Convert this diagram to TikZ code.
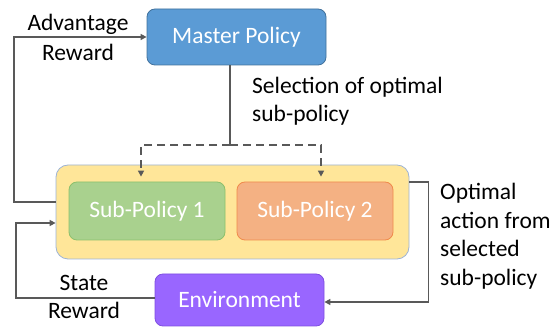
\documentclass[tikz,border=0pt]{standalone}
\usepackage{fontspec}
\setmainfont{Carlito}
\usetikzlibrary{arrows.meta}
\definecolor{mblue}{HTML}{5B9BD5}
\definecolor{mblueb}{HTML}{41719C}
\definecolor{yel}{HTML}{FFE699}
\definecolor{yelb}{HTML}{9DB3D6}
\definecolor{grn}{HTML}{A9D18E}
\definecolor{grnb}{HTML}{8CC06C}
\definecolor{org}{HTML}{F4B183}
\definecolor{orgb}{HTML}{F08A4B}
\definecolor{pur}{HTML}{9966FF}
\definecolor{purb}{HTML}{7F4FE0}
\definecolor{lin}{HTML}{595959}
\begin{document}
\begin{tikzpicture}[x=1pt,y=-1pt,
  font=\fontsize{23.5}{28.5}\selectfont,
  box/.style={draw, line width=0.8pt, rounded corners=8pt, text=white, inner sep=0pt},
  conn/.style={draw=lin, line width=1.8pt},
  tip/.style={-{Triangle[length=6pt,width=6pt]}},
  dsh/.style={dashed, dash pattern=on 8pt off 5pt},
  lbl/.style={text=black, inner sep=0pt}]
\useasboundingbox (0,0) rectangle (557,328);
\node[box, fill=mblue, draw=mblueb, minimum width=179pt, minimum height=56pt] (master) at (236.5,37) {Master Policy};
\node[box, fill=yel, draw=yelb, rounded corners=12pt, minimum width=353pt, minimum height=94pt] (yelbox) at (232.5,212) {};
\node[box, fill=grn, draw=grnb, minimum width=156pt, minimum height=58pt] (sp1) at (147,211) {Sub-Policy 1};
\node[box, fill=org, draw=orgb, minimum width=156pt, minimum height=58pt] (sp2) at (315,211) {Sub-Policy 2};
\node[box, fill=pur, draw=purb, minimum width=169pt, minimum height=52pt] (env) at (239.5,300) {Environment};
% advantage reward
\draw[conn, tip] ([yshift=10pt]yelbox.west) -- ++(-42,0) |- (master.west);
\node[lbl, align=center, font=\fontsize{23.5}{30}\selectfont] (adv) at (78,37) {Advantage\\Reward};
% selection
\draw[conn] ([xshift=-6.5pt]master.south) -- ++(0,80) coordinate (sel);
\draw[conn, dsh, tip] (sel) -| ([xshift=-6pt,yshift=5pt]sp1.north);
\draw[conn, dsh, tip] (sel) -| ([xshift=6pt,yshift=5pt]sp2.north);
\node[lbl, align=left, anchor=west] (seltxt) at (252,101) {Selection of optimal\\sub-policy};
% optimal action
\draw[conn, tip] ([yshift=30pt]yelbox.east) -- ++(19,0) |- ([yshift=-2pt]env.east);
\node[lbl, align=left, anchor=west] (opt) at (440,236) {Optimal\\action from\\selected\\sub-policy};
% state reward
\draw[conn, tip] ([yshift=2pt]env.west) -- ++(-139,0) |- ([yshift=-11pt]yelbox.west);
\node[lbl, align=center] (st) at (84,297) {State\\Reward};
\end{tikzpicture}
\end{document}
